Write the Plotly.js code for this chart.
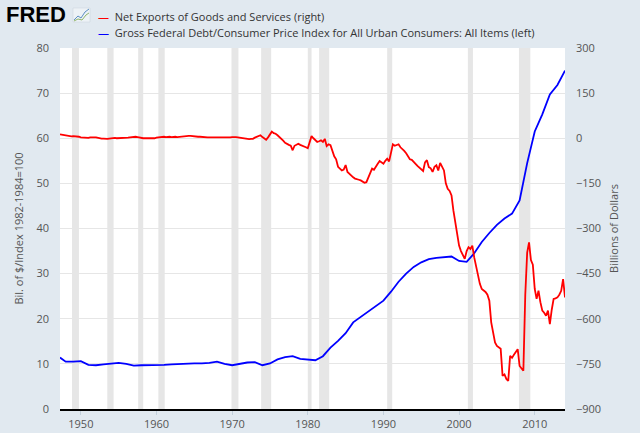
<!DOCTYPE html>
<html>
<head>
<meta charset="utf-8">
<script src="https://cdn.plot.ly/plotly-3.0.1.min.js"></script>
<style>
  html, body { margin: 0; padding: 0; background: #e1e9f0; }
  #chart { width: 640px; height: 433px; }
</style>
</head>
<body>
<div id="chart"></div>
<script>
// Net exports, quarterly, billions of dollars (right axis), 1947Q2 .. 2014Q1
var netExportsStart = 1947.25;
var netExports = [
    13, 12, 11,
    8, 7, 6, 6,
    7, 7, 7, 5,
    3, 2, 1, 0,
    1, 3, 4, 3,
    3, 1, 0, -1,
    -1, -2, -2, -1,
    0, 1, 1, 0,
    0, 0, 1, 1,
    2, 2, 3, 4,
    5, 5, 4, 2,
    1, 0, 0, 0,
    -1, -1, 0, 0,
    2, 3, 4, 5,
    5, 4, 5, 5,
    4, 5, 5, 4,
    5, 6, 6, 7,
    8, 8, 8, 7,
    5, 6, 5, 5,
    4, 3, 3, 3,
    3, 3, 3, 2,
    2, 2, 2, 1,
    1, 2, 3, 3,
    4, 5, 4, 3,
    2, 0, -1, -2,
    -3, -3, -2, -2,
    2, 5, 9, 10,
    4, -2, -5, 3,
    12, 22, 17, 15,
    10, 5, 0, -8,
    -15, -20, -22, -25,
    -40, -25, -20, -18,
    -22, -24, -26, -30,
    -33, -15, 7, 0,
    -8, -12, -10, -7,
    -12, -2, -26, -20,
    -23, -45, -60, -70,
    -95, -101, -107, -104,
    -89, -112, -118, -127,
    -130, -134, -137, -138,
    -140, -143, -148, -146,
    -130, -112, -101, -105,
    -93, -85, -76, -80,
    -85, -75, -68, -77,
    -45, -20, -25, -23,
    -20, -30, -38, -42,
    -50, -62, -70, -72,
    -77, -85, -92, -98,
    -105, -109, -80, -73,
    -96, -100, -112, -95,
    -90, -107, -82, -95,
    -107, -150, -168, -175,
    -190, -240, -277, -305,
    -357, -375, -390, -401,
    -375, -362, -368, -357,
    -396, -429, -460, -484,
    -501, -505, -511, -520,
    -540, -612, -650, -679,
    -690, -695, -700, -790,
    -785, -800, -807, -723,
    -730, -720, -712, -701,
    -757, -765, -773, -520,
    -380, -346, -405, -420,
    -501, -534, -507, -545,
    -573, -580, -590, -573,
    -618, -570, -534, -532,
    -529, -520, -507, -468,
    -529
];

// Gross federal debt / CPI, annual (left axis)
var debtYears = [
    1947.25, 1948, 1949, 1950, 1951, 1952, 1953, 1954, 1955, 1956,
    1957, 1958, 1959, 1960, 1961, 1962, 1963, 1964, 1965, 1966,
    1967, 1968, 1969, 1970, 1971, 1972, 1973, 1974, 1975, 1976,
    1977, 1978, 1979, 1980, 1981, 1982, 1983, 1984, 1985, 1986,
    1987, 1988, 1989, 1990, 1991, 1992, 1993, 1994, 1995, 1996,
    1997, 1998, 1999, 2000, 2001, 2002, 2003, 2004, 2005, 2006,
    2007, 2008, 2009, 2010, 2011, 2012, 2013, 2014
];
var debtCpi = [
    11.4, 10.5, 10.5, 10.6, 9.8, 9.7, 9.9, 10.1, 10.2, 10.0,
    9.6, 9.7, 9.7, 9.8, 9.8, 9.9, 10.0, 10.0, 10.1, 10.1,
    10.2, 10.5, 10.0, 9.7, 10.0, 10.3, 10.4, 9.7, 10.1, 11.0,
    11.5, 11.7, 11.1, 10.9, 10.8, 11.7, 13.6, 15.1, 16.8, 19.2,
    20.4, 21.4, 22.7, 24.0, 26.0, 28.2, 30.0, 31.5, 32.5, 33.2,
    33.5, 33.7, 33.8, 32.8, 32.6, 34.5, 37.0, 39.0, 40.8, 42.2,
    43.3, 46.2, 54.5, 61.5, 65.3, 69.7, 71.8, 75.0
];

// NBER recessions
var recessionStart = ['1948-11-01', '1953-07-01', '1957-08-01', '1960-04-01', '1969-12-01', '1973-11-01',
    '1980-01-01', '1981-07-01', '1990-07-01', '2001-03-01', '2007-12-01'];
var recessionEnd = ['1949-10-01', '1954-05-01', '1958-04-01', '1961-02-01', '1970-11-01', '1975-03-01',
    '1980-07-01', '1982-11-01', '1991-03-01', '2001-11-01', '2009-06-01'];

var legendLabels = ['Net Exports of Goods and Services (right)',
    'Gross Federal Debt/Consumer Price Index for All Urban Consumers: All Items (left)'];

function yearToDate(y) {
    let year = Math.floor(y + 1e-9);
    let month = Math.round((y - year) * 12) + 1;
    return year + '-' + (month < 10 ? '0' : '') + month + '-01';
}

let netDates = netExports.map((v, i) => yearToDate(netExportsStart + i * 0.25));
let debtDates = debtYears.map(yearToDate);

let traces = [
    {
        x: netDates,
        y: netExports,
        type: 'scatter',
        mode: 'lines',
        name: legendLabels[0],
        yaxis: 'y2',
        line: { color: '#ff0000', width: 1.8 },
        hoverinfo: 'none'
    },
    {
        x: debtDates,
        y: debtCpi,
        type: 'scatter',
        mode: 'lines',
        name: legendLabels[1],
        line: { color: '#0000ff', width: 1.8 },
        hoverinfo: 'none'
    }
];

let shapes = [];
for (let i in recessionStart) {
    shapes.push({
        type: 'rect', xref: 'x', yref: 'paper',
        x0: recessionStart[i], x1: recessionEnd[i], y0: 0, y1: 1,
        fillcolor: '#e6e6e6', line: { width: 0 }, layer: 'below'
    });
}

// little FRED chart icon
shapes.push({
    type: 'rect', xref: 'paper', yref: 'paper',
    x0: 0.0257, x1: 0.0594, y0: 1.0720, y1: 1.1108,
    fillcolor: '#edf2f6', line: { color: '#c9d3dc', width: 0.5 }, layer: 'above'
});
shapes.push({
    type: 'path', xref: 'paper', yref: 'paper',
    path: 'M0.0277,1.0776 L0.0356,1.0886 L0.0416,1.0831 L0.0495,1.0997 L0.0574,1.1080',
    line: { color: '#5d8fc2', width: 1 }
});
shapes.push({
    type: 'path', xref: 'paper', yref: 'paper',
    path: 'M0.0277,1.0748 L0.0356,1.0803 L0.0436,1.0776 L0.0515,1.0914 L0.0574,1.0970',
    line: { color: '#8fb56a', width: 1 }
});

let legendFont = { family: 'Open Sans, sans-serif', size: 11, color: '#333333' };
let annotations = [
    {
        xref: 'paper', yref: 'paper', x: -0.111, y: 1.093, xanchor: 'left', yanchor: 'middle',
        text: '<b>FRED</b>', showarrow: false,
        font: { family: 'Liberation Sans, Arial, sans-serif', size: 22, color: '#000000' }
    },
    {
        xref: 'paper', yref: 'paper', x: 0.072, y: 1.0859, xanchor: 'left', yanchor: 'middle',
        text: '<span style="color:#ff0000">—</span>  ' + legendLabels[0], showarrow: false,
        font: legendFont
    },
    {
        xref: 'paper', yref: 'paper', x: 0.072, y: 1.0416, xanchor: 'left', yanchor: 'middle',
        text: '<span style="color:#0000ff">—</span>  ' + legendLabels[1], showarrow: false,
        font: legendFont
    }
];

let tickFont = { family: 'Open Sans, sans-serif', size: 11, color: '#555555' };

Plotly.newPlot('chart', traces, {
    width: 640,
    height: 433,
    paper_bgcolor: '#e1e9f0',
    plot_bgcolor: '#ffffff',
    showlegend: false,
    margin: { l: 60, r: 75, t: 48, b: 24, pad: 0 },
    xaxis: {
        type: 'date',
        range: ['1947-04-01', '2014-01-01'],
        tick0: '1950-01-01',
        dtick: 'M120',
        tickformat: '%Y',
        ticks: 'outside',
        ticklen: 4,
        tickcolor: '#c2d0dc',
        showgrid: false,
        showline: true,
        linecolor: '#000000',
        linewidth: 2,
        zeroline: false,
        tickfont: tickFont
    },
    yaxis: {
        range: [0, 80],
        dtick: 10,
        showgrid: true,
        gridcolor: '#e6e6e6',
        zeroline: false,
        ticklabelstandoff: 10,
        tickfont: tickFont,
        title: {
            text: 'Bil. of $/Index 1982-1984=100',
            font: { family: 'Open Sans, sans-serif', size: 11, color: '#555555' },
            standoff: 10
        }
    },
    yaxis2: {
        range: [-900, 300],
        dtick: 150,
        overlaying: 'y',
        side: 'right',
        showgrid: false,
        zeroline: false,
        ticklabelstandoff: 10,
        tickfont: tickFont,
        title: {
            text: 'Billions of Dollars',
            font: { family: 'Open Sans, sans-serif', size: 11, color: '#555555' },
            standoff: 10
        }
    },
    shapes: shapes,
    annotations: annotations
}, {
    displayModeBar: false,
    staticPlot: true
});
</script>
</body>
</html>
